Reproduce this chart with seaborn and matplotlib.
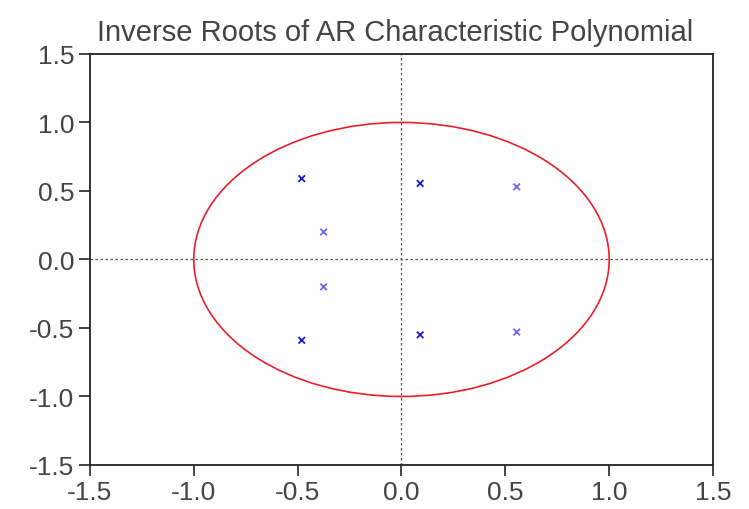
import numpy as np
import pandas as pd
import matplotlib
matplotlib.use("Agg")
import matplotlib.pyplot as plt
from matplotlib.patches import Circle
import seaborn as sns

# Inverse AR roots (real, imaginary)
real_parts = [-0.48, -0.48, 0.09, 0.09, -0.375, -0.375, 0.555, 0.555]
imag_parts = [0.59, -0.59, 0.555, -0.55, 0.20, -0.20, 0.53, -0.53]
strength = ["dark", "dark", "dark", "dark", "light", "light", "light", "light"]

tick_values = [-1.5, -1.0, -0.5, 0.0, 0.5, 1.0, 1.5]
tick_labels = ["-1.5", "-1.0", "-0.5", "0.0", "0.5", "1.0", "1.5"]

roots = pd.DataFrame({"re": real_parts, "im": imag_parts, "kind": strength})

sns.set_theme(style="white")
plt.rcParams["font.family"] = ["Liberation Sans", "DejaVu Sans"]

fig = plt.figure(figsize=(7.49, 5.10), dpi=100)
ax = fig.add_axes([0.120, 0.0863, 0.832, 0.806])

# reference lines through the origin
ax.axhline(0, color="#555555", lw=0.9, ls=(0, (2, 2)), zorder=1)
ax.axvline(0, color="#555555", lw=0.9, ls=(0, (2, 2)), zorder=1)

# unit circle
ax.add_patch(Circle((0, 0), 1.0, fill=False, edgecolor="#e8202a", lw=1.2, zorder=2))

sns.scatterplot(data=roots, x="re", y="im", hue="kind",
                palette={"dark": "#1a1ad0", "light": "#6a6ae8"},
                marker="x", s=22, linewidth=1.3, legend=False, ax=ax, zorder=3)

ax.set_xlim(-1.5, 1.5)
ax.set_ylim(-1.5, 1.5)
ax.set_xticks(tick_values)
ax.set_xticklabels(tick_labels)
ax.set_yticks(tick_values)
ax.set_yticklabels(tick_labels)
ax.set_xlabel("")
ax.set_ylabel("")

for side in ["left", "right", "top", "bottom"]:
    ax.spines[side].set_visible(True)
    ax.spines[side].set_color("#222222")
    ax.spines[side].set_linewidth(1.3)

ax.tick_params(axis="both", which="major", direction="out", length=8, width=1.2,
               color="#222222", labelsize=19, labelcolor="#444444",
               bottom=True, left=True, top=False, right=False, pad=3)

ax.set_title("Inverse Roots of AR Characteristic Polynomial", fontsize=21,
             color="#444444", pad=10, x=0.49)

fig.savefig("out.png", dpi=100, facecolor="white")
